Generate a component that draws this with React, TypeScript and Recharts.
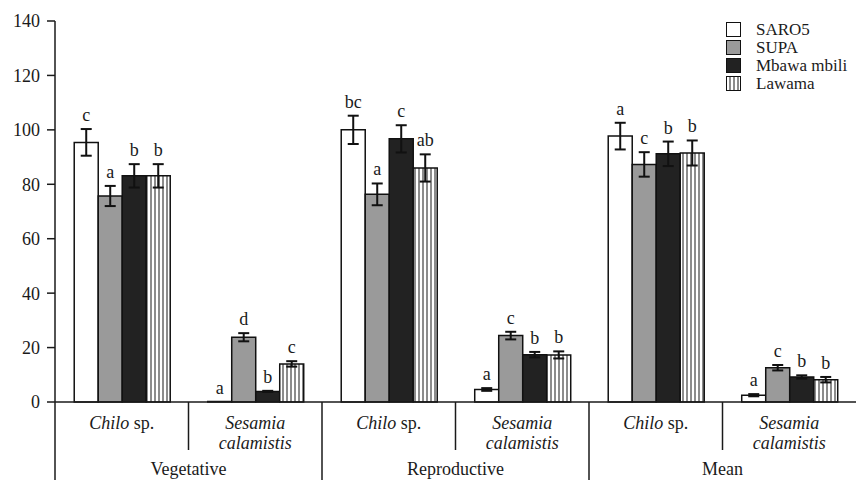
import React from "react";
import { BarChart, Bar, XAxis, YAxis, ErrorBar, LabelList, Legend } from "recharts";

// categories
const species = ["Chilo sp.", "Sesamia calamistis", "Chilo sp.", "Sesamia calamistis", "Chilo sp.", "Sesamia calamistis"];
const stages = ["Vegetative", "Reproductive", "Mean"];
const yTicks = [0, 20, 40, 60, 80, 100, 120, 140];

// series values (means), errors and significance letters
const saro5 = [95.4, 0, 100, 4.6, 97.7, 2.5];
const saro5Err = [4.9, 0, 5.2, 0.5, 4.9, 0.4];
const saro5Letters = ["c", "a", "bc", "a", "a", "a"];

const supa = [75.7, 23.8, 76.3, 24.4, 87.3, 12.6];
const supaErr = [3.7, 1.5, 4.0, 1.4, 4.5, 1.0];
const supaLetters = ["a", "d", "a", "c", "c", "c"];

const mbawa = [83.1, 3.9, 96.7, 17.4, 91.2, 9.2];
const mbawaErr = [4.3, 0.2, 5.0, 1.0, 4.5, 0.6];
const mbawaLetters = ["b", "b", "c", "b", "b", "b"];

const lawama = [83.1, 14.0, 86.0, 17.3, 91.5, 8.2];
const lawamaErr = [4.3, 1.0, 5.0, 1.3, 4.6, 1.0];
const lawamaLetters = ["b", "c", "ab", "b", "b", "b"];

const seriesNames = ["SARO5", "SUPA", "Mbawa mbili", "Lawama"];

const data = species.map((s, i) => ({
    species: s,
    stage: stages[Math.floor(i / 2)],
    saro5: saro5[i],
    saro5Err: saro5Err[i],
    saro5L: saro5Letters[i],
    supa: supa[i],
    supaErr: supaErr[i],
    supaL: supaLetters[i],
    mbawa: mbawa[i],
    mbawaErr: mbawaErr[i],
    mbawaL: mbawaLetters[i],
    lawama: lawama[i],
    lawamaErr: lawamaErr[i],
    lawamaL: lawamaLetters[i],
}));

const FONT = "'Liberation Serif', 'Times New Roman', serif";
const INK = "#1a1a1a";

// pack letter|value|error into the label value so it doesn't depend on index
const labelKey = (key: string) => (row: any) => `${row[key + "L"]}|${row[key]}|${row[key + "Err"]}`;

// letter above the error bar
const Letter = (props: any) => {
    const vb = props.viewBox || {};
    const x = props.x ?? vb.x;
    const y = props.y ?? vb.y;
    const w = props.width ?? vb.width;
    const h = props.height ?? vb.height;
    const [letter, vs, es] = String(props.value).split("|");
    const v = Number(vs);
    const e = Number(es);
    const errPx = v > 0 ? (e * Math.abs(h)) / v : 0;
    return (
        <text x={x + w / 2} y={y - errPx - 8} textAnchor="middle" fontSize={18} fontFamily={FONT} fill={INK}>
            {letter}
        </text>
    );
};

function SpeciesTick(props: any) {
    const { x, y, payload } = props;
    const off = payload?.offset ?? 66.75;
    const i = payload?.index ?? props.index ?? 0;
    const chilo = i % 2 === 0;
    return (
        <g>
            <line x1={x - off} x2={x - off} y1={y} y2={y + (chilo ? 78 : 48)} stroke={INK} strokeWidth={1.5} />
            {chilo ? (
                <text x={x} y={y + 27} textAnchor="middle" fontSize={18} fontFamily={FONT} fill={INK}>
                    <tspan fontStyle="italic">Chilo</tspan> sp.
                </text>
            ) : (
                <text x={x} y={y + 27} textAnchor="middle" fontSize={18} fontFamily={FONT} fill={INK} fontStyle="italic">
                    <tspan x={x}>Sesamia</tspan>
                    <tspan x={x} dy={20}>calamistis</tspan>
                </text>
            )}
            {chilo && (
                <text x={x + off} y={y + 73} textAnchor="middle" fontSize={18} fontFamily={FONT} fill={INK}>
                    {stages[Math.floor(i / 2)]}
                </text>
            )}
        </g>
    );
}

const swatches = [
    { background: "#ffffff" },
    { background: "#9a9a9a" },
    { background: "#222222" },
    { background: "repeating-linear-gradient(90deg, #ffffff 0px, #ffffff 2px, #8c8c8c 2px, #8c8c8c 4px)" },
];

function LegendBox() {
    return (
        <div style={{ fontFamily: FONT, fontSize: 17, color: INK }}>
            {seriesNames.map((n, i) => (
                <div key={n} style={{ display: "flex", alignItems: "center", height: 18 }}>
                    <div
                        style={{
                            width: 13,
                            height: 13,
                            border: "1.5px solid #111",
                            marginRight: 15,
                            flex: "none",
                            ...swatches[i],
                        }}
                    />
                    <span style={{ lineHeight: "17px", whiteSpace: "nowrap" }}>{n}</span>
                </div>
            ))}
        </div>
    );
}

export default function App() {
    return (
        <div style={{ position: "fixed", left: 0, top: 0, width: 858, height: 480, background: "#fff" }}>
            <BarChart
                width={858}
                height={480}
                data={data}
                margin={{ top: 21, right: 2, bottom: 0, left: 0 }}
                barCategoryGap="14.4%"
                barGap={0}
            >
                <defs>
                    <pattern id="stripes" width="4" height="4" patternUnits="userSpaceOnUse">
                        <rect width="4" height="4" fill="#ffffff" />
                        <rect x="2" width="2" height="4" fill="#8c8c8c" />
                    </pattern>
                </defs>
                <XAxis
                    dataKey="species"
                    height={78}
                    interval={0}
                    tickLine={false}
                    tickSize={0}
                    tickMargin={0}
                    axisLine={{ stroke: INK, strokeWidth: 1.5 }}
                    tick={<SpeciesTick />}
                />
                <YAxis
                    width={55}
                    domain={[0, 140]}
                    ticks={yTicks}
                    interval={0}
                    tickSize={8}
                    tickMargin={7}
                    axisLine={{ stroke: INK, strokeWidth: 1.5 }}
                    tickLine={{ stroke: INK, strokeWidth: 1.5 }}
                    tick={{ fill: INK, fontSize: 18, fontFamily: FONT }}
                />
                <Legend
                    layout="vertical"
                    align="center"
                    verticalAlign="middle"
                    wrapperStyle={{ top: 20, left: 726, width: 132 }}
                    content={<LegendBox />}
                />
                <Bar dataKey="saro5" name="SARO5" fill="#ffffff" stroke="#111" strokeWidth={1.5} minPointSize={0.5} isAnimationActive={false}>
                    <ErrorBar dataKey="saro5Err" width={5.5} stroke="#111" strokeWidth={2} />
                    <LabelList dataKey={labelKey("saro5")} content={<Letter />} />
                </Bar>
                <Bar dataKey="supa" name="SUPA" fill="#9a9a9a" stroke="#111" strokeWidth={1.5} isAnimationActive={false}>
                    <ErrorBar dataKey="supaErr" width={5.5} stroke="#111" strokeWidth={2} />
                    <LabelList dataKey={labelKey("supa")} content={<Letter />} />
                </Bar>
                <Bar dataKey="mbawa" name="Mbawa mbili" fill="#222222" stroke="#111" strokeWidth={1.5} isAnimationActive={false}>
                    <ErrorBar dataKey="mbawaErr" width={5.5} stroke="#111" strokeWidth={2} />
                    <LabelList dataKey={labelKey("mbawa")} content={<Letter />} />
                </Bar>
                <Bar dataKey="lawama" name="Lawama" fill="url(#stripes)" stroke="#111" strokeWidth={1.5} isAnimationActive={false}>
                    <ErrorBar dataKey="lawamaErr" width={5.5} stroke="#111" strokeWidth={2} />
                    <LabelList dataKey={labelKey("lawama")} content={<Letter />} />
                </Bar>
            </BarChart>
        </div>
    );
}
